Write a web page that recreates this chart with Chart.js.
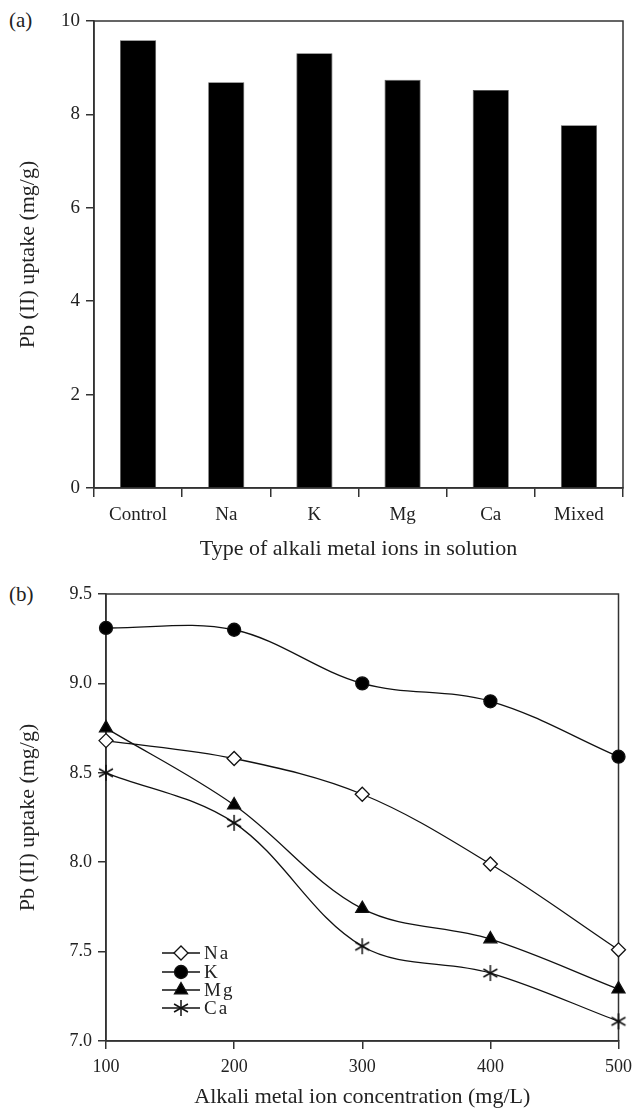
<!DOCTYPE html>
<html>
<head>
<meta charset="utf-8">
<script src="https://cdn.jsdelivr.net/npm/chart.js@4/dist/chart.umd.min.js"></script>
<style>
  body { margin: 0; background: #fff; width: 639px; height: 1110px; position: relative; overflow: hidden; }
  .panel { position: absolute; left: 0; }
  .tag { position: absolute; left: 9px; font: 21px 'Liberation Serif', 'Times New Roman', serif; color: #222; }
</style>
</head>
<body>
<div class="tag" style="top:8px">(a)</div>
<div class="tag" style="top:582px">(b)</div>
<canvas id="barChart" class="panel" style="top:0" width="639" height="565"></canvas>
<canvas id="lineChart" class="panel" style="top:560px" width="639" height="550"></canvas>
<script>
// panel (a)
const ionTypes = ['Control', 'Na', 'K', 'Mg', 'Ca', 'Mixed'];
const uptakeByIon = [9.59, 8.69, 9.31, 8.74, 8.52, 7.77];

// panel (b)
const concentrations = [100, 200, 300, 400, 500];
const naUptake = [8.68, 8.58, 8.38, 7.99, 7.51];
const kUptake  = [9.31, 9.30, 9.00, 8.90, 8.59];
const mgUptake = [8.75, 8.32, 7.74, 7.57, 7.29];
const caUptake = [8.50, 8.22, 7.53, 7.38, 7.11];

const serif = "'Liberation Serif', 'Times New Roman', serif";
Chart.defaults.font.family = serif;
Chart.defaults.color = '#222';
const axisColor = '#333';

// box around the plot area
const framePlugin = {
  id: 'frame',
  beforeDatasetsDraw(chart) {
    const a = chart.chartArea, ctx = chart.ctx;
    ctx.save();
    ctx.strokeStyle = axisColor;
    ctx.lineWidth = 1.5;
    ctx.strokeRect(a.left, a.top, a.right - a.left, a.bottom - a.top);
    ctx.restore();
  }
};

// six-armed asterisk marker for Ca
function asterisk(size) {
  const c = document.createElement('canvas');
  c.width = size; c.height = size;
  const g = c.getContext('2d');
  const r = size / 2 - 1;
  g.strokeStyle = '#111';
  g.lineWidth = 1.5;
  g.translate(size / 2, size / 2);
  for (let i = 0; i < 3; i++) {
    const ang = Math.PI / 2 + i * Math.PI / 3;
    g.beginPath();
    g.moveTo(Math.cos(ang) * r, Math.sin(ang) * r);
    g.lineTo(-Math.cos(ang) * r, -Math.sin(ang) * r);
    g.stroke();
  }
  return c;
}
const caMarker = asterisk(18);

function fixWidth(w) { return s => { s.width = w; }; }
function fixHeight(h) { return s => { s.height = h; }; }

new Chart(document.getElementById('barChart'), {
  type: 'bar',
  data: {
    labels: ionTypes,
    datasets: [{
      data: uptakeByIon,
      backgroundColor: '#000',
      borderColor: '#555',
      borderWidth: 0.8,
      barPercentage: 0.41,
      categoryPercentage: 1
    }]
  },
  options: {
    responsive: false,
    animation: false,
    layout: { padding: { top: 21, right: 16, left: 0, bottom: 0 } },
    plugins: { legend: { display: false }, tooltip: { enabled: false } },
    scales: {
      x: {
        afterFit: fixHeight(77),
        grid: { offset: true, drawOnChartArea: false, tickLength: 9, color: axisColor, lineWidth: 1.5 },
        border: { color: axisColor, width: 1.5 },
        ticks: { font: { size: 19 }, padding: 7, color: '#222' },
        title: { display: true, text: 'Type of alkali metal ions in solution', font: { size: 22 }, padding: { bottom: 3 }, color: '#222' }
      },
      y: {
        min: 0, max: 10,
        afterFit: fixWidth(94),
        grid: { drawOnChartArea: false, tickLength: 8, color: axisColor, lineWidth: 1.5 },
        border: { color: axisColor, width: 1.5 },
        ticks: { stepSize: 2, font: { size: 19 }, padding: 6, color: '#222' },
        title: { display: true, text: 'Pb (II) uptake (mg/g)', font: { size: 22 }, padding: { top: 15 }, color: '#222' }
      }
    }
  },
  plugins: [framePlugin]
});

const lineSeries = [
  { label: 'Na', data: naUptake, pointStyle: 'rectRot', pointRadius: 7, pointBackgroundColor: '#fff' },
  { label: 'K',  data: kUptake,  pointStyle: 'circle',  pointRadius: 6.5, pointBackgroundColor: '#000' },
  { label: 'Mg', data: mgUptake, pointStyle: 'triangle', pointRadius: 7.5, pointBackgroundColor: '#000' },
  { label: 'Ca', data: caUptake, pointStyle: caMarker, pointRadius: 8, pointBackgroundColor: '#000' }
];

// legend drawn inside the plot, line + marker + label
const innerLegend = {
  id: 'innerLegend',
  afterDatasetsDraw(chart) {
    const a = chart.chartArea, ctx = chart.ctx;
    const rows = [-88, -69, -51, -33];
    ctx.save();
    ctx.font = '19px ' + serif;
    ctx.textBaseline = 'middle';
    ctx.letterSpacing = '2px';
    chart.data.datasets.forEach((ds, i) => {
      const y = a.bottom + rows[i];
      const x0 = a.left + 56, x1 = a.left + 94;
      ctx.strokeStyle = '#111';
      ctx.lineWidth = 1.3;
      ctx.beginPath(); ctx.moveTo(x0, y); ctx.lineTo(x1, y); ctx.stroke();
      ctx.fillStyle = ds.pointBackgroundColor;
      ctx.strokeStyle = '#111';
      ctx.lineWidth = 1.3;
      Chart.helpers.drawPoint(ctx, { pointStyle: ds.pointStyle, radius: ds.pointRadius, borderWidth: 1.3, rotation: 0 }, (x0 + x1) / 2, y);
      ctx.fillStyle = '#222';
      ctx.fillText(ds.label, x1 + 4, y + 1);
    });
    ctx.restore();
  }
};

new Chart(document.getElementById('lineChart'), {
  type: 'line',
  data: {
    labels: concentrations,
    datasets: lineSeries.map(s => ({
      label: s.label,
      data: concentrations.map((c, i) => ({ x: c, y: s.data[i] })),
      borderColor: '#111',
      borderWidth: 1.3,
      tension: 0.35,
      pointStyle: s.pointStyle,
      pointRadius: s.pointRadius,
      pointBackgroundColor: s.pointBackgroundColor,
      pointBorderColor: '#111',
      pointBorderWidth: 1.3,
      clip: false
    }))
  },
  options: {
    responsive: false,
    animation: false,
    layout: { padding: { top: 34, right: 14, left: 0, bottom: 0 } },
    plugins: { legend: { display: false }, tooltip: { enabled: false } },
    scales: {
      x: {
        type: 'linear', min: 100, max: 500,
        afterFit: fixHeight(69),
        grid: { drawOnChartArea: false, tickLength: 8, color: axisColor, lineWidth: 1.5 },
        border: { color: axisColor, width: 1.5 },
        ticks: { stepSize: 100, font: { size: 18 }, padding: 7, color: '#222' },
        title: { display: true, text: 'Alkali metal ion concentration (mg/L)', font: { size: 22 }, padding: { bottom: 0 }, color: '#222' }
      },
      y: {
        min: 7, max: 9.5,
        afterFit: fixWidth(106),
        grid: { drawOnChartArea: false, tickLength: 8, color: axisColor, lineWidth: 1.5 },
        border: { color: axisColor, width: 1.5 },
        ticks: { stepSize: 0.5, font: { size: 18 }, padding: 6, color: '#222', callback: v => v.toFixed(1) },
        title: { display: true, text: 'Pb (II) uptake (mg/g)', font: { size: 22 }, padding: { top: 15 }, color: '#222' }
      }
    }
  },
  plugins: [framePlugin, innerLegend]
});
</script>
</body>
</html>
